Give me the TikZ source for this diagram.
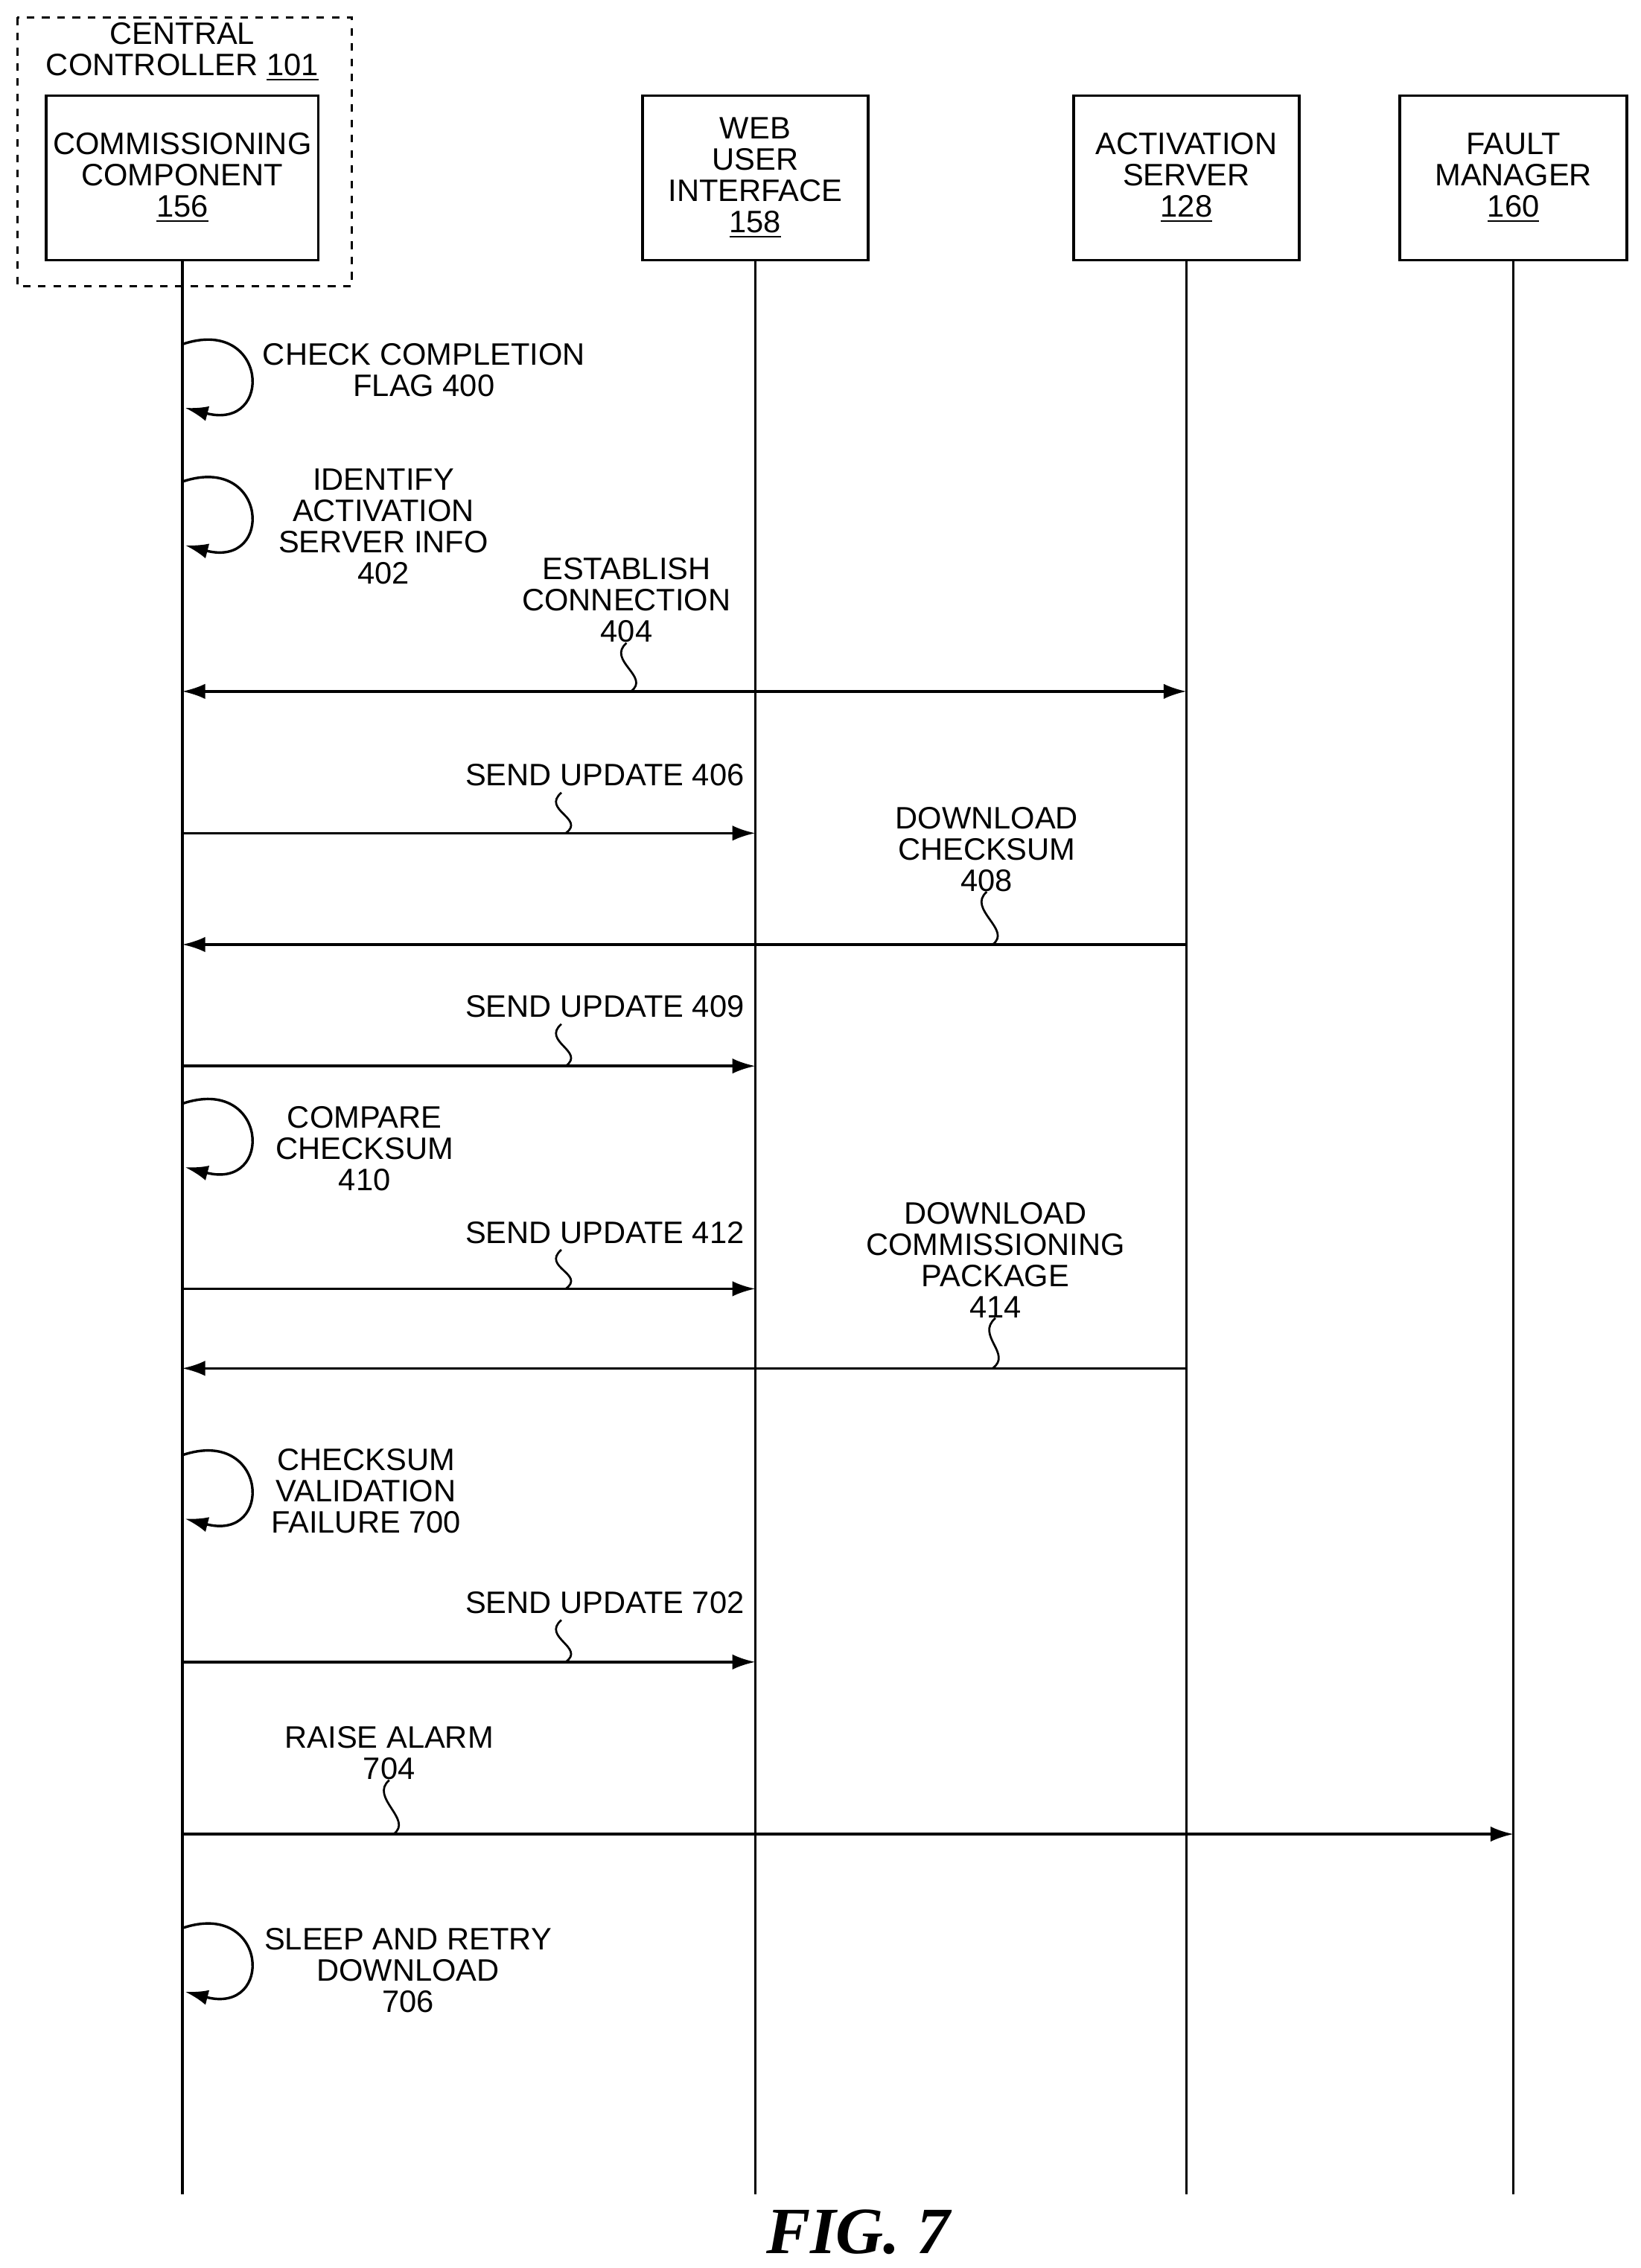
\documentclass[tikz,border=0pt]{standalone}
\usepackage{fontspec}
\setmainfont{Liberation Sans}
\newfontfamily\figfont{Liberation Serif}
\usetikzlibrary{arrows.meta,positioning}
\tikzset{
  actor/.style={draw,line width=1pt,minimum width=156\unitx,minimum height=114\unitx,align=center,inner sep=0pt,font=\fontsize{12.2}{12.3}\selectfont},
  lbl/.style={align=center,inner sep=0pt,font=\fontsize{12.2}{12.3}\selectfont},
  msg/.style={line width=1pt,-{Latex[length=9pt,width=6pt]}},
  life/.style={line width=1pt},
  squig/.style={line width=0.8pt}
}
\newlength{\unitx}\setlength{\unitx}{0.02cm}
\newcommand{\selfloop}[1]{\draw[msg] (126,#1-22) .. controls (185,#1-42) and (190,#1+38) .. (128,#1+22);}
\begin{document}
\begin{tikzpicture}[x=0.02cm,y=-0.02cm]
\useasboundingbox (0,0) rectangle (1134,1568);

% header boxes
\draw[dashed,line width=1pt] (12,12) rectangle (243,198);
\node[lbl] (ctl) at (126,36) {CENTRAL\\CONTROLLER \underline{101}};
\node[actor,minimum width=188\unitx] (cc) at (126,123) {COMMISSIONING\\COMPONENT\\\underline{156}};
\node[actor] (wui) at (522,123) {WEB\\USER\\INTERFACE\\\underline{158}};
\node[actor] (as) at (820,123) {ACTIVATION\\SERVER\\\underline{128}};
\node[actor,minimum width=157\unitx] (fm) at (1046,123) {FAULT\\MANAGER\\\underline{160}};

% lifelines
\foreach \n in {cc,wui,as,fm}
  \draw[life] (\n.south) -- (\n |- 0,1517);

% self loops
\selfloop{260}
\node[lbl] (l400) at (293,256) {CHECK COMPLETION\\FLAG 400};
\selfloop{355}
\node[lbl] (l402) at (265,364) {IDENTIFY\\ACTIVATION\\SERVER INFO\\402};
\selfloop{785}
\node[lbl] (l410) at (252,794) {COMPARE\\CHECKSUM\\410};
\selfloop{1028}
\node[lbl] (l700) at (253,1031) {CHECKSUM\\VALIDATION\\FAILURE 700};
\selfloop{1355}
\node[lbl] (l706) at (282,1362) {SLEEP AND RETRY\\DOWNLOAD\\706};

% messages
\draw[msg,{Latex[length=9pt,width=6pt]}-{Latex[length=9pt,width=6pt]}] (cc |- 0,478) -- (as |- 0,478);
\node[lbl] (l404) at (433,415) {ESTABLISH\\CONNECTION\\404};
\draw[squig] (l404.south) .. controls +(-14,12) and +(14,-10) .. (436,478);

\draw[msg] (cc |- 0,576) -- (wui |- 0,576);
\node[lbl] (l406) at (418,536) {SEND UPDATE 406};
\draw[squig] (388,548) .. controls +(-14,12) and +(14,-10) .. (391,576);

\draw[msg] (as |- 0,653) -- (cc |- 0,653);
\node[lbl] (l408) at (682,587) {DOWNLOAD\\CHECKSUM\\408};
\draw[squig] (l408.south) .. controls +(-14,12) and +(14,-10) .. (686,653);

\draw[msg] (cc |- 0,737) -- (wui |- 0,737);
\node[lbl] (l409) at (418,696) {SEND UPDATE 409};
\draw[squig] (388,708) .. controls +(-14,12) and +(14,-10) .. (391,737);

\draw[msg] (cc |- 0,891) -- (wui |- 0,891);
\node[lbl] (l412) at (418,852) {SEND UPDATE 412};
\draw[squig] (388,864) .. controls +(-14,12) and +(14,-10) .. (391,891);

\draw[msg] (as |- 0,946) -- (cc |- 0,946);
\node[lbl] (l414) at (688,871) {DOWNLOAD\\COMMISSIONING\\PACKAGE\\414};
\draw[squig] (l414.south) .. controls +(-14,12) and +(14,-10) .. (686,946);

\draw[msg] (cc |- 0,1149) -- (wui |- 0,1149);
\node[lbl] (l702) at (418,1108) {SEND UPDATE 702};
\draw[squig] (388,1120) .. controls +(-14,12) and +(14,-10) .. (391,1149);

\draw[msg] (cc |- 0,1268) -- (fm |- 0,1268);
\node[lbl] (l704) at (269,1212) {RAISE ALARM\\704};
\draw[squig] (l704.south) .. controls +(-14,12) and +(14,-10) .. (272,1268);

% caption
\node (fig) at (593,1543) {\figfont\bfseries\itshape\fontsize{26}{28}\selectfont FIG. 7};
\end{tikzpicture}
\end{document}
